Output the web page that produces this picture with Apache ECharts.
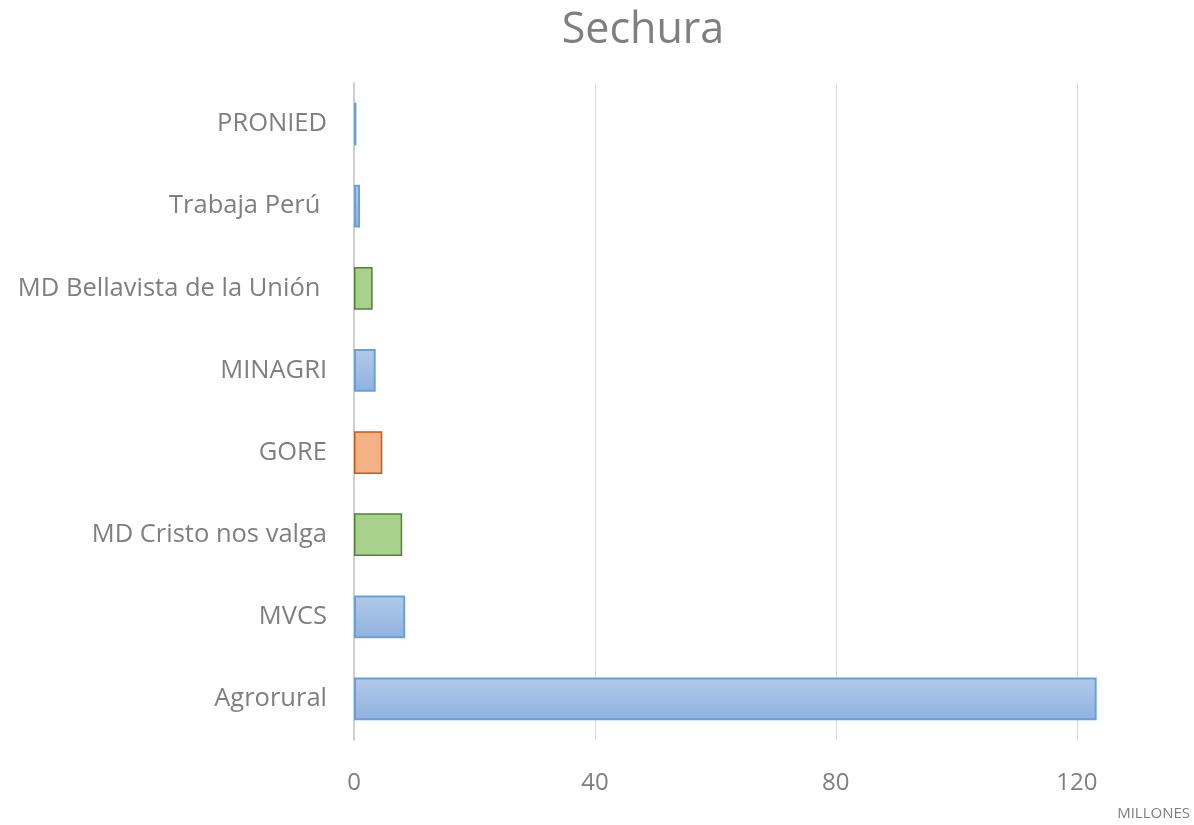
<!DOCTYPE html>
<html>
<head>
<meta charset="utf-8">
<title>Sechura</title>
<script src="https://cdn.jsdelivr.net/npm/echarts@6/dist/echarts.min.js"></script>
<style>
  html, body { margin: 0; padding: 0; background: #fff; }
  #main { width: 1194px; height: 825px; }
</style>
</head>
<body>
<div id="main"></div>
<script>
// datos (millones), de abajo hacia arriba
var categorias = ['Agrorural', 'MVCS', 'MD Cristo nos valga', 'GORE', 'MINAGRI', 'MD Bellavista de la Unión ', 'Trabaja Perú ', 'PRONIED'];
var montos = [123.3, 8.5, 8.0, 4.7, 3.6, 3.1, 1.0, 0.4];
var tipos = ['nacional', 'nacional', 'local', 'regional', 'nacional', 'local', 'nacional', 'nacional'];
var ticks = [0, 40, 80, 120];

var estilos = {
    nacional: {
        color: new echarts.graphic.LinearGradient(0, 0, 0, 1, [
            { offset: 0, color: '#b1caea' },
            { offset: 1, color: '#8fb2df' }
        ]),
        borderColor: '#6a9fd8',
        borderWidth: 2
    },
    local: { color: '#a9d18e', borderColor: '#548235', borderWidth: 1.5 },
    regional: { color: '#f4b183', borderColor: '#c55a11', borderWidth: 1.5 }
};

var datos = montos.map(function (v, i) {
    return { value: v, itemStyle: estilos[tipos[i]] };
});

var fuente = '"Open Sans", sans-serif';

var myChart = echarts.init(document.getElementById('main'));
var option = {
    backgroundColor: '#fff',
    animation: false,
    grid: {
        left: 354,
        right: 57,
        top: 83,
        bottom: 85,
        containLabel: false
    },
    xAxis: {
        type: 'value',
        min: 0,
        max: 130,
        interval: 40,
        axisLine: { show: false },
        axisTick: { show: false },
        axisLabel: {
            color: '#7f7f7f',
            fontSize: 24,
            fontFamily: fuente,
            margin: 31,
            formatter: function (v) { return ticks.indexOf(v) >= 0 ? v : ''; }
        },
        splitLine: { showMaxLine: false, lineStyle: { color: '#d9d9d9', width: 1 } }
    },
    yAxis: {
        type: 'category',
        data: categorias,
        axisLine: { lineStyle: { color: '#d0d0d0', width: 2 } },
        axisTick: { show: false },
        axisLabel: { color: '#7f7f7f', fontSize: 25.5, fontFamily: fuente, margin: 27, padding: [4, 0, 0, 0] }
    },
    series: [{
        type: 'bar',
        data: datos,
        barCategoryGap: '48%'
    }],
    graphic: [{
        type: 'text',
        x: 643,
        y: 9,
        style: { text: 'Sechura', fill: '#7f7f7f', fontSize: 43, fontFamily: fuente, textAlign: 'center' }
    }, {
        type: 'text',
        right: 4,
        top: 806,
        style: { text: 'MILLONES', fill: '#7f7f7f', fontSize: 15, fontFamily: fuente }
    }]
};
myChart.setOption(option);
</script>
</body>
</html>
